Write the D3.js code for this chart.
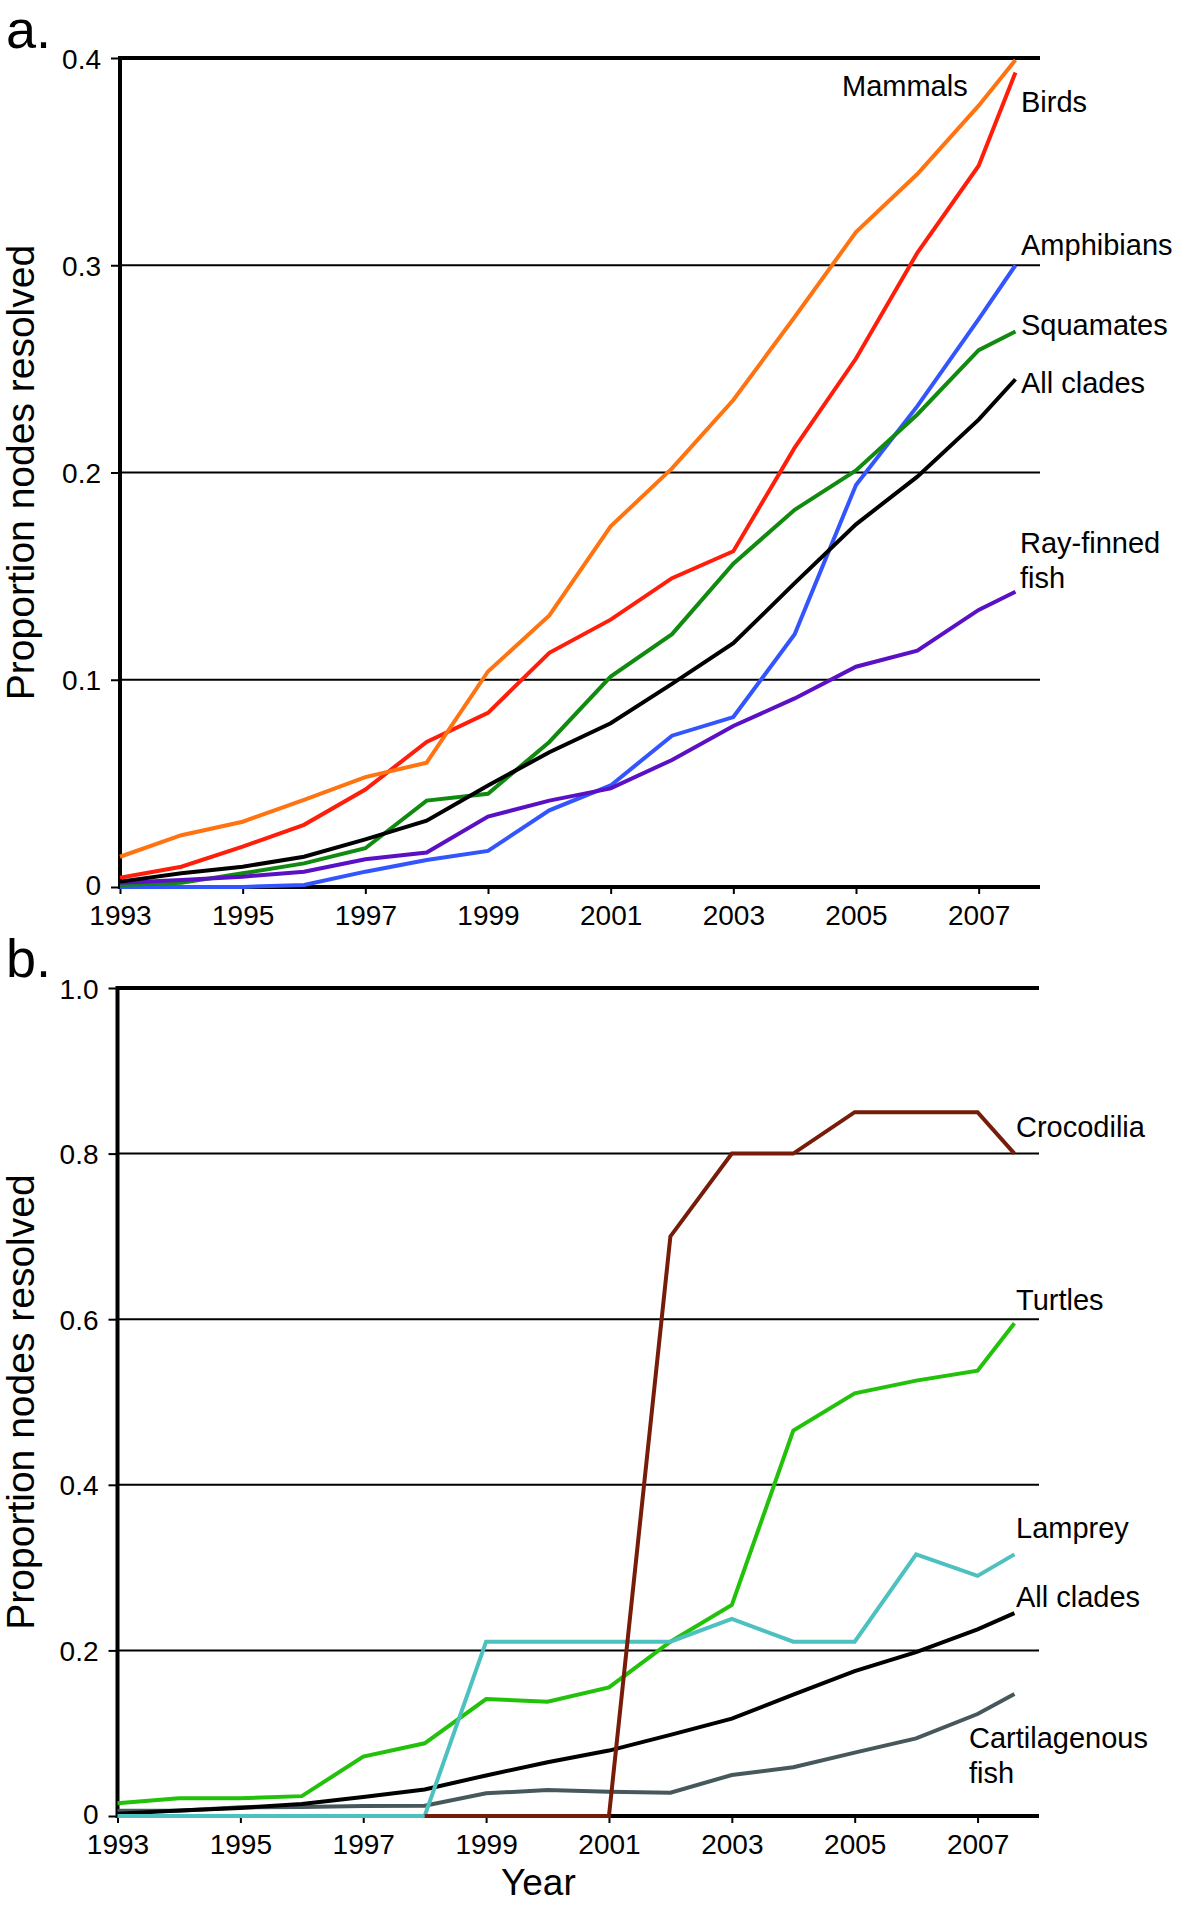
<!DOCTYPE html>
<html>
<head>
<meta charset="utf-8">
<script src="https://cdn.jsdelivr.net/npm/d3@7"></script>
<style>
  body { margin: 0; background: #fff; }
  svg { display: block; font-family: "Liberation Sans", Arial, Helvetica, sans-serif; }
</style>
</head>
<body>
<div id="chart"></div>
<script>
// x values: yearly snapshots, last one taken part way through 2008
const years = [1993, 1994, 1995, 1996, 1997, 1998, 1999, 2000, 2001, 2002, 2003, 2004, 2005, 2006, 2007, 2007.6];

// panel a
const mammals    = [0.0146, 0.025, 0.0315, 0.042, 0.053, 0.060, 0.104, 0.131, 0.174, 0.202, 0.235, 0.275, 0.316, 0.344, 0.377, 0.399];
const birds      = [0.0045, 0.0098, 0.0195, 0.030, 0.047, 0.070, 0.084, 0.113, 0.129, 0.149, 0.162, 0.212, 0.255, 0.306, 0.348, 0.393];
const amphibians = [0, 0, 0, 0.001, 0.0074, 0.013, 0.0174, 0.037, 0.049, 0.073, 0.082, 0.122, 0.194, 0.232, 0.274, 0.300];
const squamates  = [0.001, 0.002, 0.0066, 0.0114, 0.0187, 0.0417, 0.045, 0.070, 0.1015, 0.122, 0.156, 0.182, 0.201, 0.228, 0.259, 0.268];
const allClades  = [0.0026, 0.0066, 0.0098, 0.0146, 0.023, 0.032, 0.049, 0.065, 0.079, 0.098, 0.1176, 0.1466, 0.175, 0.198, 0.2255, 0.245];
const rayFinned  = [0.002, 0.0034, 0.005, 0.0074, 0.0134, 0.0166, 0.034, 0.0417, 0.0476, 0.0613, 0.0777, 0.091, 0.1063, 0.114, 0.1337, 0.1425];

// panel b
const cartilagenous = [0.0064, 0.0064, 0.0105, 0.011, 0.012, 0.0125, 0.0274, 0.0314, 0.0294, 0.0282, 0.0495, 0.0588, 0.0765, 0.0938, 0.1232, 0.1473];
const turtles       = [0.0153, 0.0213, 0.0213, 0.024, 0.0717, 0.0878, 0.1413, 0.138, 0.1554, 0.2105, 0.2548, 0.4654, 0.5105, 0.5258, 0.5378, 0.595];
const lamprey       = [0, 0, 0, 0, 0, 0, 0.2105, 0.2105, 0.2105, 0.2105, 0.238, 0.2105, 0.2105, 0.316, 0.290, 0.316];
const crocodilia    = [null, null, null, null, null, 0, 0, 0, 0, 0.70, 0.80, 0.80, 0.85, 0.85, 0.85, 0.80];

const xTicks = [1993, 1995, 1997, 1999, 2001, 2003, 2005, 2007];
const yTicksA = [0, 0.1, 0.2, 0.3, 0.4];
const yTicksB = [0, 0.2, 0.4, 0.6, 0.8, 1.0];

const width = 1200;
const height = 1914;

const svg = d3.select('#chart')
  .append('svg')
  .attr('width', width)
  .attr('height', height)
  .attr('viewBox', [0, 0, width, height]);

function panel(opts) {
  const x = d3.scaleLinear()
    .domain([1993, 2008])
    .range([opts.left, opts.right]);

  const y = d3.scaleLinear()
    .domain(opts.yDomain)
    .range([opts.bottom, opts.top]);

  const g = svg.append('g');

  // grid lines
  g.append('g')
    .selectAll('line')
    .data(opts.yTicks.slice(1, -1))
    .join('line')
      .attr('x1', opts.left)
      .attr('x2', opts.right)
      .attr('y1', d => y(d))
      .attr('y2', d => y(d))
      .attr('stroke', '#000')
      .attr('stroke-width', 2);

  // x axis
  g.append('g')
    .attr('transform', `translate(0,${opts.bottom})`)
    .call(d3.axisBottom(x).tickValues(xTicks).tickFormat(d3.format('d')).tickSize(7).tickPadding(11))
    .call(a => a.select('.domain').remove())
    .call(a => a.selectAll('.tick line').attr('stroke-width', 2))
    .call(a => a.selectAll('text').attr('font-size', 28).attr('font-family', null).attr('fill', '#000'));

  // y axis
  g.append('g')
    .attr('transform', `translate(${opts.left},0)`)
    .call(d3.axisLeft(y).tickValues(opts.yTicks).tickFormat(opts.yFormat).tickSize(9).tickPadding(10))
    .call(a => a.select('.domain').remove())
    .call(a => a.selectAll('.tick line').attr('stroke-width', 2))
    .call(a => a.selectAll('text').attr('font-size', 28).attr('font-family', null).attr('fill', '#000')
      .attr('dy', d => d === 0 ? '0.28em' : '0.36em'));

  // frame: top, bottom, left
  const top = y(opts.yDomain[1]);
  const bottom = y(0);
  g.append('path')
    .attr('d', `M${opts.right},${top}H${opts.left}V${bottom}H${opts.right}`)
    .attr('fill', 'none')
    .attr('stroke', '#000')
    .attr('stroke-width', 4);

  const line = d3.line()
    .defined(d => d[1] != null)
    .x(d => x(d[0]))
    .y(d => y(d[1]));

  g.append('g')
    .selectAll('path')
    .data(opts.series)
    .join('path')
      .attr('d', s => line(years.map((yr, i) => [yr, s.values[i]])))
      .attr('fill', 'none')
      .attr('stroke', s => s.color)
      .attr('stroke-width', 4);

  // series labels
  const lab = g.append('g').attr('font-size', 29).attr('fill', '#000');
  opts.labels.forEach(l => {
    const t = lab.append('text').attr('x', l.x).attr('y', l.y);
    l.text.forEach((s, i) => {
      t.append('tspan').attr('x', l.x).attr('dy', i === 0 ? 0 : 35).text(s);
    });
  });

  // y axis title
  g.append('text')
    .attr('transform', `translate(34,${(top + bottom) / 2}) rotate(-90)`)
    .attr('text-anchor', 'middle')
    .attr('font-size', 39)
    .text('Proportion nodes resolved');

  // panel letter
  g.append('text')
    .attr('x', 6)
    .attr('y', opts.letterY)
    .attr('font-size', 54)
    .text(opts.letter);

  return {x, y};
}

panel({
  letter: 'a.',
  letterY: 48,
  left: 120, right: 1040, top: 58, bottom: 887,
  yDomain: [0, 0.4],
  yTicks: yTicksA,
  yFormat: d => d === 0 ? '0' : d3.format('.1f')(d),
  series: [
    {name: 'Amphibians', values: amphibians, color: '#3355ff'},
    {name: 'Squamates', values: squamates, color: '#118a10'},
    {name: 'Ray-finned fish', values: rayFinned, color: '#5a10c4'},
    {name: 'Birds', values: birds, color: '#ff1e0a'},
    {name: 'Mammals', values: mammals, color: '#ff7410'},
    {name: 'All clades', values: allClades, color: '#000000'}
  ],
  labels: [
    {text: ['Mammals'], x: 842, y: 96},
    {text: ['Birds'], x: 1021, y: 112},
    {text: ['Amphibians'], x: 1021, y: 255},
    {text: ['Squamates'], x: 1021, y: 335},
    {text: ['All clades'], x: 1021, y: 393},
    {text: ['Ray-finned', 'fish'], x: 1020, y: 553}
  ]
});

panel({
  letter: 'b.',
  letterY: 977,
  left: 117.5, right: 1039, top: 988, bottom: 1816,
  yDomain: [0, 1],
  yTicks: yTicksB,
  yFormat: d => d === 0 ? '0' : d3.format('.1f')(d),
  series: [
    {name: 'Cartilagenous fish', values: cartilagenous, color: '#46585c'},
    {name: 'All clades', values: allClades, color: '#000000'},
    {name: 'Turtles', values: turtles, color: '#22c10a'},
    {name: 'Lamprey', values: lamprey, color: '#4dc0c0'},
    {name: 'Crocodilia', values: crocodilia, color: '#761c08'}
  ],
  labels: [
    {text: ['Crocodilia'], x: 1016, y: 1137},
    {text: ['Turtles'], x: 1016, y: 1310},
    {text: ['Lamprey'], x: 1016, y: 1538},
    {text: ['All clades'], x: 1016, y: 1607},
    {text: ['Cartilagenous', 'fish'], x: 969, y: 1748}
  ]
});

svg.append('text')
  .attr('x', 501)
  .attr('y', 1895)
  .attr('font-size', 37)
  .text('Year');
</script>
</body>
</html>
